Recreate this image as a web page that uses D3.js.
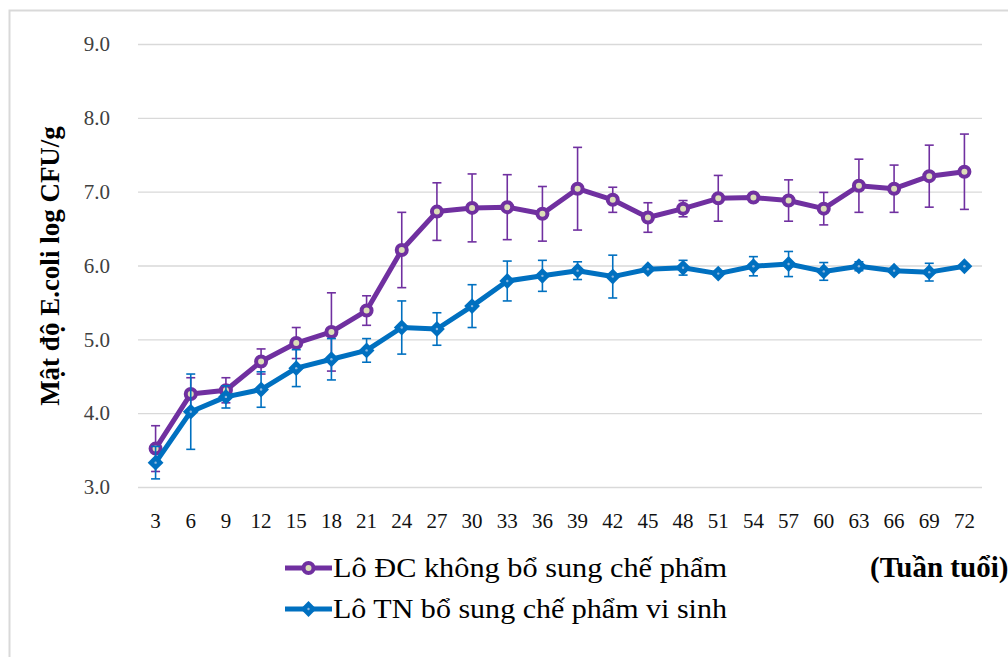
<!DOCTYPE html>
<html>
<head>
<meta charset="utf-8">
<script src="https://cdn.jsdelivr.net/npm/d3@7"></script>
<style>
  body { margin: 0; background: #fff; }
  svg { display: block; }
  text { font-family: "Liberation Serif", "Times New Roman", Times, "DejaVu Serif", serif; }
</style>
</head>
<body>
<div id="chart"></div>
<script>
// weeks of age
const weeks = [3, 6, 9, 12, 15, 18, 21, 24, 27, 30, 33, 36, 39, 42, 45, 48, 51, 54, 57, 60, 63, 66, 69, 72]
// control lot (no supplement)
const dcMean = [3.52, 4.26, 4.31, 4.70, 4.95, 5.10, 5.39, 6.21, 6.73, 6.78, 6.79, 6.70, 7.04, 6.89, 6.65, 6.77, 6.91, 6.92, 6.88, 6.77, 7.08, 7.04, 7.21, 7.27]
const dcErr = [0.31, 0.22, 0.17, 0.17, 0.21, 0.53, 0.20, 0.51, 0.39, 0.46, 0.44, 0.37, 0.56, 0.17, 0.20, 0.11, 0.31, 0.00, 0.28, 0.22, 0.36, 0.32, 0.42, 0.51]
// trial lot (probiotic supplement)
const tnMean = [3.33, 4.02, 4.22, 4.32, 4.61, 4.73, 4.85, 5.16, 5.14, 5.45, 5.79, 5.86, 5.93, 5.85, 5.95, 5.97, 5.89, 5.99, 6.02, 5.92, 5.99, 5.93, 5.91, 5.99]
const tnErr = [0.22, 0.51, 0.15, 0.24, 0.25, 0.28, 0.16, 0.36, 0.22, 0.29, 0.27, 0.21, 0.12, 0.29, 0.03, 0.10, 0.03, 0.13, 0.17, 0.12, 0.06, 0.00, 0.12, 0.00]
const yTicks = [3, 4, 5, 6, 7, 8, 9]

const series = [
  { name: "Lô ĐC không bổ sung chế phẩm", mean: dcMean, err: dcErr, color: "#7030A0", shape: "circle" },
  { name: "Lô TN bổ sung chế phẩm vi sinh", mean: tnMean, err: tnErr, color: "#0070C0", shape: "diamond" }
]

const SERIF = '"Liberation Serif", "Times New Roman", Times, "DejaVu Serif", serif'
const W = 1008, H = 657
const svg = d3.select("#chart").append("svg")
  .attr("width", W)
  .attr("height", H)

// outer frame
svg.append("rect")
  .attr("x", 9.5).attr("y", 10.5)
  .attr("width", W + 20).attr("height", H + 20)
  .attr("fill", "none")
  .attr("stroke", "#d9d9d9")
  .attr("stroke-width", 2)

const x = d3.scaleBand()
  .domain(weeks)
  .range([138, 982])

const y = d3.scaleLinear()
  .domain([3, 9])
  .range([487, 44])

const cx = d => x(d) + x.bandwidth() / 2

// gridlines + y labels
svg.append("g")
  .attr("transform", "translate(138,0)")
  .call(d3.axisLeft(y).tickValues(yTicks).tickSize(-(982 - 138)).tickFormat(d3.format(".1f")).tickPadding(28))
  .call(g => g.select(".domain").remove())
  .call(g => g.selectAll(".tick line").attr("stroke", "#d9d9d9").attr("stroke-width", 1.3))
  .call(g => g.selectAll(".tick text")
    .attr("fill", "#404040")
    .style("font-size", "21px")
    .style("font-family", SERIF))

// x labels
svg.append("g")
  .attr("transform", "translate(0,487)")
  .call(d3.axisBottom(x).tickSize(0).tickPadding(26))
  .call(g => g.select(".domain").remove())
  .call(g => g.selectAll(".tick text")
    .attr("fill", "#111")
    .style("font-size", "21px")
    .style("font-family", SERIF))

// y title
svg.append("text")
  .attr("transform", "translate(59,266) rotate(-90)")
  .attr("text-anchor", "middle")
  .style("font-size", "27px")
  .style("font-weight", "bold")
  .text("Mật độ E.coli log CFU/g")

const line = d3.line()
  .x((d, i) => cx(weeks[i]))
  .y(d => y(d))

const diamond = s => `M0,${-s}L${s},0L0,${s}L${-s},0Z`

function drawMarker(g, shape, color) {
  if (shape === "circle") {
    g.append("circle").attr("r", 5)
      .attr("fill", "#dcdfb8")
      .attr("stroke", color)
      .attr("stroke-width", 4)
  } else {
    g.append("path").attr("d", diamond(6.5))
      .attr("fill", color)
      .attr("stroke", color)
      .attr("stroke-width", 2)
    g.append("circle").attr("r", 1.2).attr("fill", "#8fb8de")
  }
}

series.forEach(s => {
  const g = svg.append("g")
  g.append("path")
    .datum(s.mean)
    .attr("d", line)
    .attr("fill", "none")
    .attr("stroke", s.color)
    .attr("stroke-width", 5)
    .attr("stroke-linejoin", "round")

  // error bars
  const eb = g.selectAll(".eb")
    .data(weeks.map((w, i) => ({ w, m: s.mean[i], e: s.err[i] })).filter(d => d.e > 0))
    .enter().append("g")
    .attr("stroke", s.color)
    .attr("stroke-width", 1.6)
  eb.append("line")
    .attr("x1", d => cx(d.w)).attr("x2", d => cx(d.w))
    .attr("y1", d => y(d.m + d.e)).attr("y2", d => y(d.m - d.e))
  eb.append("line")
    .attr("x1", d => cx(d.w) - 4.5).attr("x2", d => cx(d.w) + 4.5)
    .attr("y1", d => y(d.m + d.e)).attr("y2", d => y(d.m + d.e))
  eb.append("line")
    .attr("x1", d => cx(d.w) - 4.5).attr("x2", d => cx(d.w) + 4.5)
    .attr("y1", d => y(d.m - d.e)).attr("y2", d => y(d.m - d.e))

  g.selectAll(".mk")
    .data(s.mean)
    .enter().append("g")
    .attr("transform", (d, i) => `translate(${cx(weeks[i])},${y(d)})`)
    .each(function () { drawMarker(d3.select(this), s.shape, s.color) })
})

// legend
const leg = svg.append("g")
series.forEach((s, i) => {
  const ly = 568 + i * 41
  const lg = leg.append("g").attr("transform", `translate(285,${ly})`)
  lg.append("line")
    .attr("x1", 0).attr("x2", 47)
    .attr("stroke", s.color).attr("stroke-width", 5)
  const m = lg.append("g").attr("transform", "translate(23.5,0)")
  drawMarker(m, s.shape, s.color)
  lg.append("text")
    .attr("x", 48).attr("y", 9)
    .attr("textLength", 394)
    .attr("lengthAdjust", "spacingAndGlyphs")
    .style("font-size", "27px")
    .style("font-family", SERIF)
    .text(s.name)
})

svg.append("text")
  .attr("x", 870).attr("y", 577)
  .style("font-size", "29px")
  .style("font-weight", "bold")
  .style("font-family", SERIF)
  .text("(Tuần tuổi)")
</script>
</body>
</html>
